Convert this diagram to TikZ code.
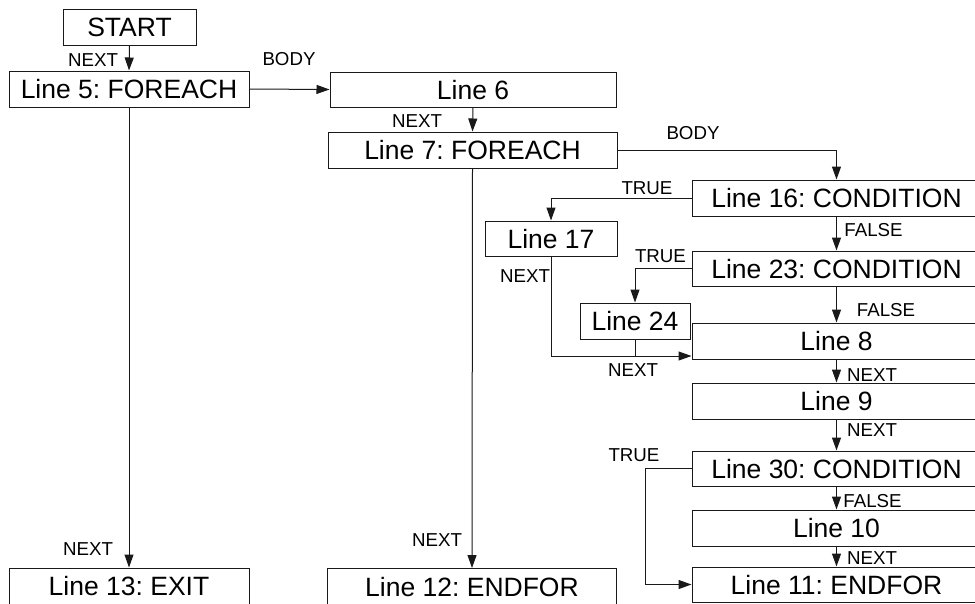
\documentclass[tikz,border=0pt]{standalone}
\usepackage{fontspec}
\setmainfont{Liberation Sans}
\usetikzlibrary{arrows.meta}
\frenchspacing
\newcommand{\mainsz}{\fontsize{26.5}{30}\selectfont}
\newcommand{\labsz}{\fontsize{18.7}{21}\selectfont}
\tikzset{
  box/.style={draw=black!90, line width=1pt, rectangle, inner sep=0pt, font=\mainsz, text height=19pt, text depth=0pt},
  lab/.style={inner sep=0pt, font=\labsz, text height=13.5pt, text depth=0pt},
  arr/.style={line width=1pt, draw=black!90, -{Triangle[length=13pt,width=9pt]}},
  ln/.style={line width=1pt, draw=black!90}
}
\begin{document}
\begin{tikzpicture}[x=1pt,y=-1pt]
\useasboundingbox (0,0) rectangle (975,603);
\clip (0,0) rectangle (975,603);
\fill[white] (0,0) rectangle (975,603);
% boxes
\node[box, minimum width=133pt, minimum height=36pt] (st) at (129.5,27) {START};
\node[box, minimum width=240pt, minimum height=36pt] (l5) at (129,89) {Line 5: FOREACH};
\node[box, minimum width=286pt, minimum height=35pt] (l6) at (473,89.5) {Line 6};
\node[box, minimum width=289pt, minimum height=36pt] (l7) at (472.5,150) {Line 7: FOREACH};
\node[box, minimum width=289pt, minimum height=36pt] (l16) at (836.5,198) {Line 16: CONDITION};
\node[box, minimum width=132pt, minimum height=35pt] (l17) at (551,238.5) {Line 17};
\node[box, minimum width=289pt, minimum height=35pt] (l23) at (836.5,268.5) {Line 23: CONDITION};
\node[box, minimum width=110pt, minimum height=36pt] (l24) at (635,321) {Line 24};
\node[box, minimum width=289pt, minimum height=36pt] (l8) at (836.5,341) {Line 8};
\node[box, minimum width=289pt, minimum height=36pt] (l9) at (836.5,401) {Line 9};
\node[box, minimum width=289pt, minimum height=35pt] (l30) at (836.5,468.5) {Line 30: CONDITION};
\node[box, minimum width=289pt, minimum height=36pt] (l10) at (836.5,528) {Line 10};
\node[box, minimum width=289pt, minimum height=35pt] (l11) at (836.5,584.5) {Line 11: ENDFOR};
\node[box, minimum width=240pt, minimum height=36pt] (l13) at (129,586) {Line 13: EXIT};
\node[box, minimum width=289pt, minimum height=36pt] (l12) at (472,586.5) {Line 12: ENDFOR};
% connectors
\draw[arr] (st.south) -- (l5.north);
\draw[arr] (l5.east) -- (l6.west);
\draw[arr] (l6.south) -- (l7.north);
\draw[arr] (l7.east) -| (l16.north);
\draw[arr] (l16.west) -| (l17.north);
\draw[arr] (l16.south) -- (l23.north);
\draw[arr] (l23.west) -| (l24.north);
\draw[arr] (l23.south) -- (l8.north);
\coordinate (jn) at ([yshift=-15pt]l8.west);
\draw[arr] (l17.south) |- (jn);
\draw[ln] (l24.south) -- (l24.south |- jn);
\draw[arr] (l8.south) -- (l9.north);
\draw[arr] (l9.south) -- (l30.north);
\draw[arr] (l30.south) -- (l10.north);
\draw[arr] (l10.south) -- (l11.north);
\coordinate (t30) at (645,468.5);
\draw[arr] (l30.west) -- (t30) |- (l11.west);
\draw[arr] (l5.south) -- (l13.north);
\draw[arr] (l7.south) -- (l12.north);
% labels
\node[lab] (n1) at (93,59.5) {NEXT};
\node[lab] (b1) at (289,59) {BODY};
\node[lab] (n2) at (417,120.5) {NEXT};
\node[lab] (b2) at (693,133) {BODY};
\node[lab] (t1) at (647,187.5) {TRUE};
\node[lab] (f1) at (873.5,230) {FALSE};
\node[lab] (t2) at (660.5,255.5) {TRUE};
\node[lab] (n3) at (525,275.5) {NEXT};
\node[lab] (f2) at (886,310) {FALSE};
\node[lab] (n4) at (633,369.5) {NEXT};
\node[lab] (n5) at (872,374.5) {NEXT};
\node[lab] (n6) at (872,430) {NEXT};
\node[lab] (t3) at (634,454.5) {TRUE};
\node[lab] (f3) at (872.5,500.5) {FALSE};
\node[lab] (n7) at (872,557.5) {NEXT};
\node[lab] (n8) at (88,549) {NEXT};
\node[lab] (n9) at (437,540) {NEXT};
\end{tikzpicture}
\end{document}
